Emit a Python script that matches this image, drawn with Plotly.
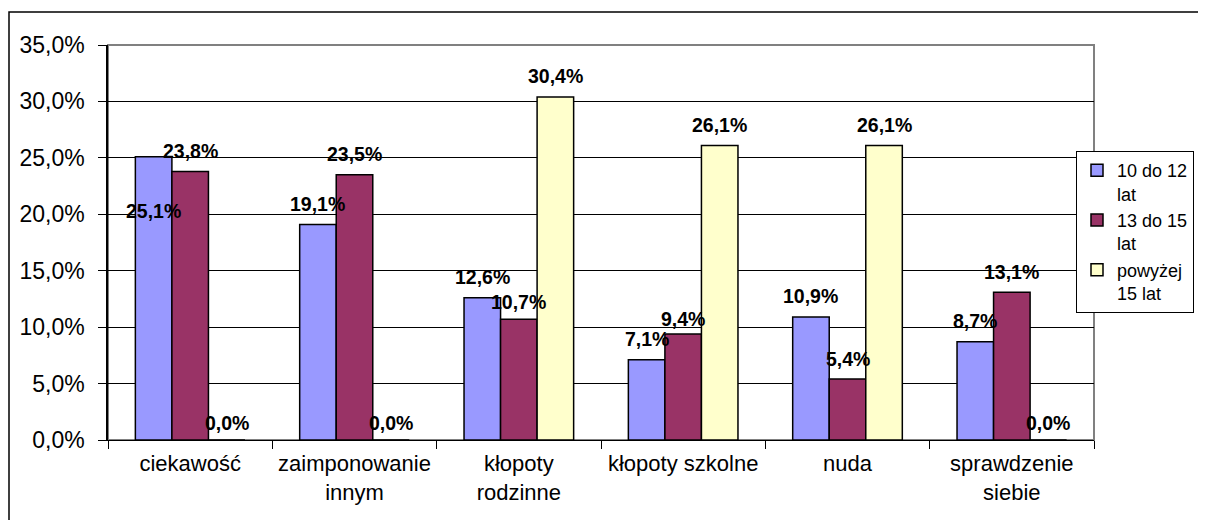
import plotly.graph_objects as go

categories = ["ciekawość", "zaimponowanie<br>innym", "kłopoty<br>rodzinne",
              "kłopoty szkolne", "nuda", "sprawdzenie<br>siebie"]
series_names = ["10 do 12<br>lat", "13 do 15<br>lat", "powyżej<br>15 lat"]
s_10_12 = [25.1, 19.1, 12.6, 7.1, 10.9, 8.7]
s_13_15 = [23.8, 23.5, 10.7, 9.4, 5.4, 13.1]
s_15_plus = [0.0, 0.0, 30.4, 26.1, 26.1, 0.0]
y_ticks = [0, 5, 10, 15, 20, 25, 30, 35]
y_tick_labels = ["0,0%", "5,0%", "10,0%", "15,0%", "20,0%", "25,0%", "30,0%", "35,0%"]

series_values = [s_10_12, s_13_15, s_15_plus]
colors = ["#9999FF", "#993366", "#FFFFCC"]

OFF = 8  # page body margin of the html page
W, H = 1206 - OFF, 520 - OFF
ML, MT = 108 - OFF, 45 - OFF
MR = W - (1094 - OFF)
MB = H - (440 - OFF)
plot_w = W - ML - MR
plot_h = H - MT - MB
BARGAP = 0.333
bar_px = plot_w / len(categories) * (1 - BARGAP) / 3

FONT = "Liberation Sans, Arial, sans-serif"

fig = go.Figure()
for name, vals, col in zip(series_names, series_values, colors):
    fig.add_trace(go.Bar(
        x=categories, y=vals, name=name,
        marker=dict(color=col, line=dict(color="black", width=1.5)),
    ))

# label offsets (pixels above bar top); exceptions mimic the original placement
label_shift = {(0, 0): -54, (1, 3): 15, (1, 2): 17}
for j, vals in enumerate(series_values):
    for i, v in enumerate(vals):
        ys = label_shift.get((j, i), 17 if v == 0 else 20.5)
        fig.add_annotation(
            x=categories[i], y=v, xref="x", yref="y",
            xshift=(j - 1) * bar_px, yshift=ys,
            text="<b>" + f"{v:.1f}".replace(".", ",") + "%</b>",
            showarrow=False, yanchor="middle", xanchor="center",
            font=dict(family=FONT, size=19.5, color="black"),
        )

# plot-area grey border
fig.add_shape(type="rect", xref="paper", yref="paper", x0=0, x1=1, y0=0, y1=1,
              line=dict(color="#808080", width=2), layer="between")
# outer chart frame (left and top edges; the rest lies outside the picture)
fx0 = (9 - OFF - ML) / plot_w
fx1 = (W + 20 - ML) / plot_w
fy0 = -(MB + 20) / plot_h
fy1 = (H - MB - (12 - OFF)) / plot_h
fig.add_shape(type="path", xref="paper", yref="paper",
              path=f"M {fx0},{fy0} L {fx0},{fy1} L {fx1},{fy1}",
              line=dict(color="black", width=1.5), layer="above")

fig.update_layout(
    width=W, height=H,
    margin=dict(l=ML, r=MR, t=MT, b=MB, autoexpand=False),
    paper_bgcolor="white", plot_bgcolor="white",
    barmode="group", bargap=BARGAP, bargroupgap=0,
    font=dict(family=FONT, color="black"),
    legend=dict(
        x=(1076 - OFF - ML) / plot_w, y=(H - MB - (151 - OFF)) / plot_h,
        xanchor="left", yanchor="top",
        bgcolor="white", bordercolor="black", borderwidth=1,
        font=dict(family=FONT, size=18, color="black"),
        valign="top", tracegroupgap=0, itemwidth=30,
    ),
    xaxis=dict(
        showgrid=False, showline=True, linecolor="black", linewidth=1,
        ticks="outside", tickson="boundaries", ticklen=8, tickcolor="black",
        tickfont=dict(family=FONT, size=22, color="black"),
        ticklabelstandoff=4,
    ),
    yaxis=dict(
        range=[0, 35], tickvals=y_ticks, ticktext=y_tick_labels,
        showgrid=True, gridcolor="black", gridwidth=1,
        showline=True, linecolor="black", linewidth=1.5,
        ticks="outside", ticklen=8, tickcolor="black",
        tickfont=dict(family=FONT, size=23, color="black"),
        ticklabelstandoff=9, zeroline=False,
    ),
)

fig.write_html("out.html")
